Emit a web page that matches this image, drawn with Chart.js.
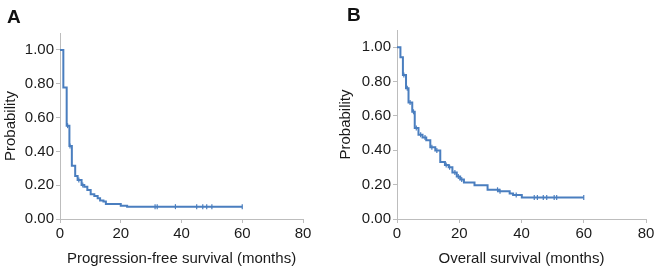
<!DOCTYPE html>
<html>
<head>
<meta charset="utf-8">
<script src="https://cdn.jsdelivr.net/npm/chart.js@4.4.1/dist/chart.umd.min.js"></script>
<style>
    body { margin: 0; background: #fff; font-family: "Liberation Sans", Arial, sans-serif; }
    .panel { position: absolute; top: 0; width: 330px; height: 272px; }
    .tag { position: absolute; font-weight: bold; font-size: 19px; color: #111; }
</style>
</head>
<body>
<div class="panel" style="left:0"><canvas id="pfsChart" width="330" height="272"></canvas></div>
<div class="panel" style="left:330px"><canvas id="osChart" width="331" height="272"></canvas></div>
<div class="tag" style="left:7px; top:6px">A</div>
<div class="tag" style="left:347px; top:4px">B</div>
<script>
// progression-free survival (months, probability after each drop)
const pfsTimes = [0, 1.1, 2.2, 3.1, 3.9, 5.0, 5.8, 7.1, 8.0, 9.0, 10.1, 11.3, 12.4, 13.2, 14.3, 15.1, 20.0, 22.1, 60];
const pfsSurv = [1.00, 0.777, 0.552, 0.432, 0.315, 0.254, 0.231, 0.201, 0.191, 0.172, 0.146, 0.136, 0.122, 0.110, 0.103, 0.089, 0.079, 0.073, 0.073];
const pfsCensored = [2.5, 3.3, 6.2, 7.5, 31.3, 32, 38, 45, 47, 48.3, 50, 60];

// overall survival
const osTimes = [0, 1.1, 1.9, 2.9, 3.7, 4.9, 5.7, 6.9, 8.2, 9.4, 10.7, 12.3, 13.9, 15.4, 16.6, 17.8, 19.2, 20.3, 21.5, 24.9, 29.1, 32.8, 36.2, 37.3, 40.1, 60];
const osSurv = [1.00, 0.942, 0.838, 0.761, 0.678, 0.624, 0.530, 0.490, 0.474, 0.458, 0.418, 0.399, 0.332, 0.314, 0.301, 0.270, 0.247, 0.230, 0.212, 0.196, 0.170, 0.162, 0.148, 0.139, 0.125, 0.125];
const osCensored = [2.2, 3.3, 4.2, 5.3, 6.2, 7.6, 9.0, 11.2, 12.8, 15.8, 16.9, 18.6, 19.7, 20.8, 32.3, 33.1, 38.3, 44.1, 45.1, 47, 48.1, 50.5, 51.3, 60];

const xTicks = [0, 20, 40, 60, 80];
const yTicks = [0, 0.2, 0.4, 0.6, 0.8, 1.0];

const lineColor = '#4a7ebf';
const axisColor = '#bdbdbd';

// value of the step curve at time t
function survAt(times, surv, t) {
    let s = surv[0];
    for (let i = 0; i < times.length; i++) {
        if (times[i] <= t) s = surv[i];
    }
    return s;
}

function makeChart(id, times, surv, censored, xTitle, box) {
    const ctx = document.getElementById(id).getContext('2d');
    return new Chart(ctx, {
        type: 'line',
        data: {
            datasets: [
                {
                    data: times.map((t, i) => ({ x: t, y: surv[i] })),
                    borderColor: lineColor,
                    borderWidth: 2,
                    stepped: true,
                    pointRadius: 0,
                    fill: false,
                    clip: 4
                },
                {
                    type: 'scatter',
                    data: censored.map(t => ({ x: t, y: survAt(times, surv, t) })),
                    pointStyle: 'line',
                    rotation: 90,
                    radius: 2.5,
                    borderColor: lineColor,
                    borderWidth: 1.2,
                    showLine: false
                }
            ]
        },
        options: {
            responsive: false,
            animation: false,
            events: [],
            layout: { padding: { left: box.pad, right: box.right, top: box.top, bottom: 0 } },
            plugins: { legend: { display: false }, tooltip: { enabled: false } },
            scales: {
                x: {
                    type: 'linear',
                    min: 0,
                    max: 80,
                    afterBuildTicks: s => { s.ticks = xTicks.map(v => ({ value: v })); },
                    afterFit: s => { s.height = 53; },
                    border: { color: axisColor, width: 1 },
                    grid: { drawOnChartArea: false, color: axisColor, tickLength: 4 },
                    ticks: { color: '#1a1a1a', font: { family: 'Liberation Sans', size: 15 }, padding: 2 },
                    title: {
                        display: true,
                        text: xTitle,
                        color: '#1a1a1a',
                        font: { family: 'Liberation Sans', size: 15 },
                        padding: { top: 0 }
                    }
                },
                y: {
                    type: 'linear',
                    min: 0,
                    max: 1.1,
                    afterBuildTicks: s => { s.ticks = yTicks.map(v => ({ value: v })); },
                    afterFit: s => { s.width = box.left - box.pad; },
                    border: { color: axisColor, width: 1 },
                    grid: { drawOnChartArea: false, color: axisColor, tickLength: 4 },
                    ticks: {
                        color: '#1a1a1a',
                        font: { family: 'Liberation Sans', size: 15 },
                        padding: 2,
                        callback: v => v.toFixed(2)
                    },
                    title: {
                        display: true,
                        text: 'Probability',
                        color: '#1a1a1a',
                        font: { family: 'Liberation Sans', size: 15 },
                        padding: 0
                    }
                }
            }
        }
    });
}

makeChart('pfsChart', pfsTimes, pfsSurv, pfsCensored, 'Progression-free survival (months)', { pad: 2, left: 60, right: 27, top: 33 });
makeChart('osChart', osTimes, osSurv, osCensored, 'Overall survival (months)', { pad: 7, left: 67, right: 15, top: 30 });
</script>
</body>
</html>
